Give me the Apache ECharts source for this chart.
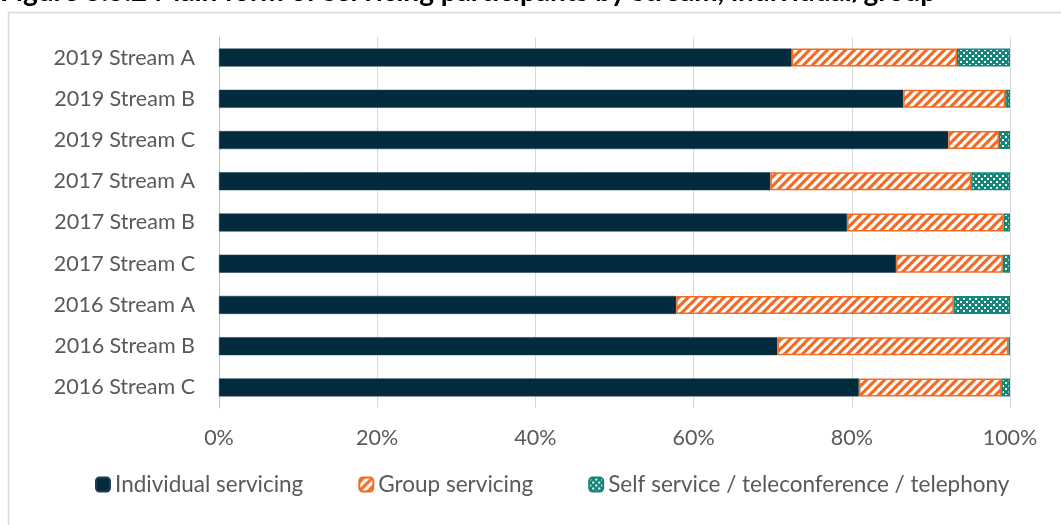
<!DOCTYPE html>
<html>
<head>
<meta charset="utf-8">
<script src="https://cdn.jsdelivr.net/npm/echarts@6/dist/echarts.min.js"></script>
<style>
  html, body { margin: 0; padding: 0; background: #fff; }
  #chart { width: 1061px; height: 525px; }
</style>
</head>
<body>
<div id="chart"></div>
<script>
// Streams, listed top to bottom
const categories = [
  '2019 Stream A', '2019 Stream B', '2019 Stream C',
  '2017 Stream A', '2017 Stream B', '2017 Stream C',
  '2016 Stream A', '2016 Stream B', '2016 Stream C'
];
// Share of participants (%) by main form of servicing
const individual = [72.4, 86.5, 92.2, 69.7, 79.4, 85.6, 57.8, 70.6, 80.9];
const group      = [20.9, 12.9,  6.4, 25.4, 19.8, 13.5, 35.1, 29.2, 18.0];
const selfServ   = [ 6.7,  0.6,  1.4,  4.9,  0.8,  0.9,  7.1,  0.2,  1.1];
const xTicks = [0, 20, 40, 60, 80, 100];

const NAVY = '#022b3d';
const ORANGE = '#f36b24';
const TEAL = '#16857a';

// Orange fill with white diagonal stripes
function stripePattern() {
  const s = 9;
  const c = document.createElement('canvas');
  c.width = s; c.height = s;
  const g = c.getContext('2d');
  g.fillStyle = ORANGE;
  g.fillRect(0, 0, s, s);
  g.strokeStyle = '#ffffff';
  g.lineWidth = 3.2;
  g.lineCap = 'square';
  [[-s, s, s, -s], [0, s, s, 0], [0, 2 * s, 2 * s, 0]].forEach(function (l) {
    g.beginPath(); g.moveTo(l[0], l[1]); g.lineTo(l[2], l[3]); g.stroke();
  });
  return { image: c, repeat: 'repeat' };
}

// Teal fill with small white dots
function dotPattern() {
  const s = 6;
  const c = document.createElement('canvas');
  c.width = s; c.height = s;
  const g = c.getContext('2d');
  g.fillStyle = TEAL;
  g.fillRect(0, 0, s, s);
  g.fillStyle = '#ffffff';
  g.fillRect(0, 1, 2, 2);
  g.fillRect(3, 4, 2, 2);
  return { image: c, repeat: 'repeat' };
}

const chart = echarts.init(document.getElementById('chart'), null, { renderer: 'canvas' });
const FONT = 'Lato, "Open Sans", sans-serif';
const FS = 21.5;

chart.setOption({
  animation: false,
  textStyle: { fontFamily: FONT },
  graphic: [
    {
      type: 'rect',
      shape: { x: 8.5, y: 12.5, width: 1200, height: 700 },
      style: { fill: 'none', stroke: '#d9d9d9', lineWidth: 1.5 },
      silent: true
    },
    {
      type: 'text',
      left: 0,
      top: -22,
      style: {
        text: 'Figure 5.5.2 Main form of servicing participants by stream, individual/group',
        font: 'bold 28px ' + FONT,
        fill: '#000000'
      },
      silent: true
    }
  ],
  grid: { left: 219, right: 51, top: 37, bottom: 117 },
  legend: {
    bottom: 24,
    left: 90,
    itemWidth: 14,
    itemHeight: 14,
    itemGap: 55,
    textStyle: { fontSize: 22.5, color: '#595959', fontFamily: FONT },
    data: ['Individual servicing', 'Group servicing', 'Self service / teleconference / telephony']
  },
  xAxis: {
    type: 'value',
    min: 0,
    max: 100,
    interval: 20,
    axisLine: { show: false },
    axisTick: { show: false },
    splitLine: { lineStyle: { color: '#d9d9d9', width: 1 } },
    axisLabel: {
      color: '#595959',
      fontSize: FS,
      margin: 19,
      formatter: function (v) { return xTicks.indexOf(v) >= 0 ? v + '%' : ''; }
    }
  },
  yAxis: {
    type: 'category',
    inverse: true,
    data: categories,
    axisLine: { show: true, lineStyle: { color: '#bfbfbf', width: 1 } },
    axisTick: { show: false },
    axisLabel: { color: '#595959', fontSize: FS, margin: 24 }
  },
  series: [
    {
      name: 'Individual servicing',
      type: 'bar',
      stack: 'total',
      barWidth: 18,
      data: individual,
      itemStyle: { color: NAVY, borderColor: '#1d3f50', borderWidth: 0.5 }
    },
    {
      name: 'Group servicing',
      type: 'bar',
      stack: 'total',
      barWidth: 18,
      data: group,
      itemStyle: { color: stripePattern(), borderColor: ORANGE, borderWidth: 1.5 }
    },
    {
      name: 'Self service / teleconference / telephony',
      type: 'bar',
      stack: 'total',
      barWidth: 18,
      data: selfServ,
      itemStyle: { color: dotPattern(), borderColor: TEAL, borderWidth: 1.5 }
    }
  ]
});
</script>
</body>
</html>
